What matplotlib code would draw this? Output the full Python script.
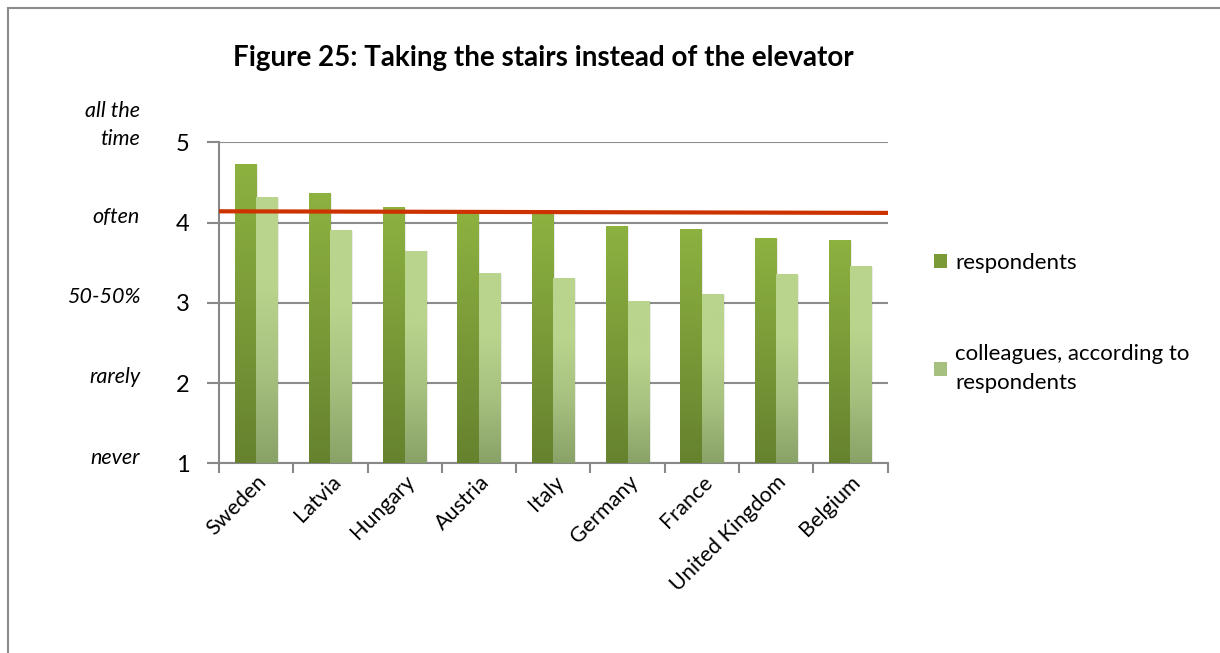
import numpy as np
import matplotlib
matplotlib.use("Agg")
import matplotlib.pyplot as plt
from matplotlib.colors import LinearSegmentedColormap
from matplotlib.patches import Rectangle
from matplotlib.lines import Line2D

plt.rcParams['font.family'] = ['Lato', 'DejaVu Sans']

# Дані
countries = ["Sweden", "Latvia", "Hungary", "Austria", "Italy",
             "Germany", "France", "United Kingdom", "Belgium"]
respondents = [4.73, 4.37, 4.19, 4.13, 4.11, 3.96, 3.92, 3.81, 3.78]
colleagues = [4.32, 3.91, 3.65, 3.37, 3.31, 3.02, 3.11, 3.36, 3.46]
avg_line = [4.14, 4.12]
scale_values = [1, 2, 3, 4, 5]
scale_labels = ["never", "rarely", "50-50%", "often", "all the\ntime"]

# Градієнти для стовпчиків
dark_cmap = LinearSegmentedColormap.from_list("dark", ["#66822e", "#7a9a38", "#8db240"])
light_cmap = LinearSegmentedColormap.from_list("light", ["#89a267", "#a6c07f", "#b9d48c", "#b9d48c"])
grad = np.linspace(0, 1, 256).reshape(-1, 1)

fig = plt.figure(figsize=(12.2, 6.53), dpi=100)
ax = fig.add_axes([0.1795, 0.2905, 0.548, 0.4916])

x = np.arange(len(countries))
w = 0.29

def gradient_bars(xs, heights, cmap):
    for xi, h in zip(xs, heights):
        # легка тінь праворуч
        ax.add_patch(Rectangle((xi - w / 2 + 0.02, 1), w, h - 1 - 0.01,
                               facecolor="#000000", alpha=0.08, lw=0, zorder=2))
        im = ax.imshow(grad, cmap=cmap, origin="lower", aspect="auto",
                       extent=[xi - w / 2, xi + w / 2, 1, h], zorder=3)
        clip = Rectangle((xi - w / 2, 1), w, h - 1, transform=ax.transData,
                         facecolor="none", lw=0)
        ax.add_patch(clip)
        im.set_clip_path(clip)

gradient_bars(x - w / 2, respondents, dark_cmap)
gradient_bars(x + w / 2, colleagues, light_cmap)

ax.plot([-0.48, len(countries) - 0.45], avg_line, color="#cc3300", lw=3, zorder=5)

ax.set_xlim(-0.5, len(countries) - 0.5)
ax.set_ylim(1, 5)

ax.set_yticks(scale_values)
ax.set_yticklabels([str(v) for v in scale_values], fontsize=17)
ax.tick_params(axis="y", length=9, width=1.5, color="#888888", pad=12)
ax.yaxis.grid(True, color="#8c8c8c", lw=1.5, zorder=0)
ax.set_axisbelow(True)

ax.set_xticks(x)
ax.set_xticklabels(countries, rotation=45, ha="right", rotation_mode="anchor", fontsize=15.5)
ax.set_xticks(np.arange(-0.5, len(countries)), minor=True)
ax.tick_params(axis="x", which="major", length=0, pad=6)
ax.tick_params(axis="x", which="minor", length=7, width=1.5, color="#888888")

for s in ["top", "right"]:
    ax.spines[s].set_visible(False)
for s in ["left", "bottom"]:
    ax.spines[s].set_color("#888888")
    ax.spines[s].set_linewidth(1.5)

# Підписи шкали ліворуч
for v, lab in zip(scale_values, scale_labels):
    off = 0.22 if "\n" in lab else 0.07
    ax.text(-0.118, v + off, lab, transform=ax.get_yaxis_transform(),
            ha="right", va="center", fontsize=15.5, style="italic",
            linespacing=1.5)

fig.text(543 / 1220, 1 - 58 / 653, "Figure 25: Taking the stairs instead of the elevator",
         fontsize=20, fontweight="bold", ha="center", va="center")

handles = [Rectangle((0, 0), 1, 1, facecolor="#7a9a38"),
           Rectangle((0, 0), 1, 1, facecolor="#a6c07f")]
leg = fig.legend(handles, ["respondents", "colleagues, according to\nrespondents"],
                 loc="upper left", bbox_to_anchor=(0.749, 0.643), frameon=False,
                 fontsize=16, handlelength=0.6, handleheight=0.6,
                 handletextpad=0.35, labelspacing=3.2)
for t in leg.get_texts():
    t.set_linespacing(1.55)

# Рамка
fig.add_artist(Line2D([8 / 1220, 8 / 1220], [0, 1 - 8 / 653], color="#8c8c8c", lw=1.5))
fig.add_artist(Line2D([8 / 1220, 1], [1 - 8 / 653, 1 - 8 / 653], color="#8c8c8c", lw=1.5))

fig.savefig("out.png", dpi=100)
